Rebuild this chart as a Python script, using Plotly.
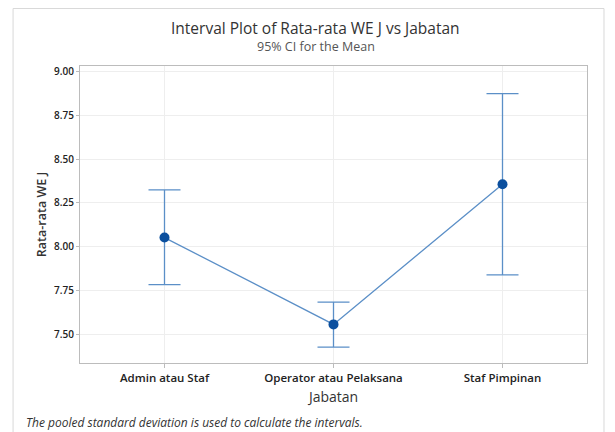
import plotly.graph_objects as go

categories = ["Admin atau Staf", "Operator atau Pelaksana", "Staf Pimpinan"]
means = [8.052, 7.555, 8.357]
upper = [8.325, 7.683, 8.876]
lower = [7.783, 7.425, 7.838]
y_ticks = [7.50, 7.75, 8.00, 8.25, 8.50, 8.75, 9.00]

err_plus = [u - m for u, m in zip(upper, means)]
err_minus = [m - l for m, l in zip(means, lower)]

line_col = "#5b8fc7"
marker_col = "#0b4f9e"

fig = go.Figure()
fig.add_trace(go.Scatter(
    x=categories, y=means, mode="lines",
    line=dict(color=line_col, width=1.3),
    error_y=dict(type="data", symmetric=False, array=err_plus, arrayminus=err_minus,
                 color=line_col, thickness=1.3, width=16),
    hoverinfo="skip", showlegend=False,
))
fig.add_trace(go.Scatter(
    x=categories, y=means, mode="markers",
    marker=dict(color=marker_col, size=10),
    showlegend=False,
))

font_family = "Open Sans, Noto Sans, sans-serif"

fig.update_layout(
    width=615, height=432,
    margin=dict(l=72, r=36, t=58, b=77),
    paper_bgcolor="white", plot_bgcolor="white",
    font=dict(family=font_family, color="#333333"),
    xaxis=dict(
        type="category", range=[-0.5, 2.5],
        showgrid=True, gridcolor="#eeeeee", gridwidth=1,
        showline=True, linecolor="#bcbcbc", linewidth=1, mirror=True,
        ticks="outside", ticklen=4, tickcolor="#bcbcbc",
        tickfont=dict(size=11.5, color="#222222", weight=600),
        title=dict(text="Jabatan", font=dict(size=14, color="#333333"), standoff=8),
        zeroline=False,
    ),
    yaxis=dict(
        range=[7.334, 9.034],
        tickvals=y_ticks, ticktext=[f"{v:.2f}" for v in y_ticks],
        showgrid=True, gridcolor="#eeeeee", gridwidth=1,
        showline=True, linecolor="#bcbcbc", linewidth=1, mirror=True,
        ticks="outside", ticklen=3, tickcolor="#bcbcbc",
        tickfont=dict(size=10, color="#222222", weight=600),
        title=dict(text="Rata-rata WE J", font=dict(size=12.5, color="#333333", weight=600), standoff=4),
        zeroline=False,
    ),
    shapes=[dict(
        type="rect", xref="paper", yref="paper",
        x0=-0.132, x1=1.0335, y0=-0.3, y1=1.1936,
        line=dict(color="#d9d9d9", width=1), fillcolor="rgba(0,0,0,0)", layer="below",
    )],
    annotations=[
        dict(text="Interval Plot of Rata-rata WE J vs Jabatan",
             xref="paper", yref="paper", x=0.465, y=1.128, xanchor="center", yanchor="middle",
             showarrow=False, font=dict(size=15.5, color="#333333")),
        dict(text="95% CI for the Mean",
             xref="paper", yref="paper", x=0.465, y=1.064, xanchor="center", yanchor="middle",
             showarrow=False, font=dict(size=12.5, color="#555555")),
        dict(text="<i>The pooled standard deviation is used to calculate the intervals.</i>",
             xref="paper", yref="paper", x=-0.111, y=-0.2, xanchor="left", yanchor="middle",
             showarrow=False, font=dict(size=12, color="#333333")),
    ],
)

fig.write_html("out.html")
